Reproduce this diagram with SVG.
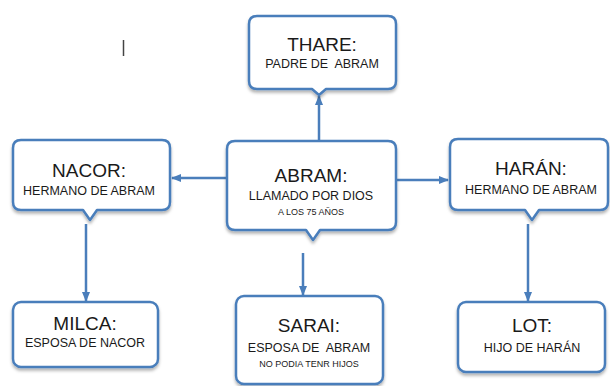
<svg xmlns="http://www.w3.org/2000/svg" width="610" height="386" viewBox="0 0 610 386">
<style>
.box{fill:#fff;stroke:#4a7ebb;stroke-width:2.5;stroke-linejoin:round;filter:url(#sh)}
.con{stroke:#4a7ebb;stroke-width:2.5;fill:none;marker-end:url(#ah)}
text{font-family:"Liberation Sans",Arial,sans-serif;fill:#1a1a1a;text-anchor:middle;white-space:pre}
.t{font-size:19px}
.s{font-size:12.5px}
.x{font-size:9px}
</style>
<defs>
<filter id="sh" x="-10%" y="-10%" width="120%" height="130%">
<feDropShadow dx="0" dy="2.5" stdDeviation="1.5" flood-color="#000" flood-opacity="0.3"/>
</filter>
<marker id="ah" markerUnits="userSpaceOnUse" markerWidth="10" markerHeight="10" viewBox="0 0 10 10" refX="9" refY="5" orient="auto">
<path d="M0,1 L10,5 L0,9 Z" fill="#4a7ebb"/>
</marker>
</defs>
<g id="connectors">
<line class="con" x1="319" y1="141" x2="319" y2="96"/>
<line class="con" x1="227" y1="178" x2="172" y2="178"/>
<line class="con" x1="396" y1="180" x2="448" y2="180"/>
<line class="con" x1="303" y1="253" x2="303" y2="295"/>
<line class="con" x1="86" y1="224" x2="86" y2="301"/>
<line class="con" x1="528" y1="224" x2="528" y2="301"/>
</g>
<g id="thare">
<path class="box" d="M257,16 H388 Q396,16 396,24 V81 Q396,89 388,89 H326 L319,95 L312,89 H257 Q249,89 249,81 V24 Q249,16 257,16 Z"/>
<text class="t" x="322" y="51">THARE:</text>
<text class="s" x="322" y="68" xml:space="preserve">PADRE DE  ABRAM</text>
</g>
<g id="abram">
<path class="box" d="M235,141 H388 Q396,141 396,149 V222 Q396,230 388,230 H320 L313,240 L306,230 H235 Q227,230 227,222 V149 Q227,141 235,141 Z"/>
<text class="t" x="311" y="182">ABRAM:</text>
<text class="s" x="311" y="200">LLAMADO POR DIOS</text>
<text class="x" x="311" y="215">A LOS 75 AÑOS</text>
</g>
<g id="nacor">
<path class="box" d="M21,140 H162 Q170,140 170,148 V202 Q170,210 162,210 H97 L90,220 L83,210 H21 Q13,210 13,202 V148 Q13,140 21,140 Z"/>
<text class="t" x="89" y="177">NACOR:</text>
<text class="s" x="89" y="195">HERMANO DE ABRAM</text>
</g>
<g id="haran">
<path class="box" d="M458,139 H600 Q608,139 608,147 V202 Q608,210 600,210 H539 L532,220 L525,210 H458 Q450,210 450,202 V147 Q450,139 458,139 Z"/>
<text class="t" x="531" y="175">HARÁN:</text>
<text class="s" x="531" y="194">HERMANO DE ABRAM</text>
</g>
<g id="milca">
<rect class="box" x="13" y="302" width="145" height="65" rx="8"/>
<text class="t" x="85" y="330">MILCA:</text>
<text class="s" x="85" y="347">ESPOSA DE NACOR</text>
</g>
<g id="sarai">
<rect class="box" x="236" y="296" width="147" height="88" rx="8"/>
<text class="t" x="309" y="332">SARAI:</text>
<text class="s" x="309" y="352" xml:space="preserve">ESPOSA DE  ABRAM</text>
<text class="x" x="309" y="367">NO PODIA TENR HIJOS</text>
</g>
<g id="lot">
<rect class="box" x="458" y="302" width="147" height="70" rx="8"/>
<text class="t" x="532" y="332">LOT:</text>
<text class="s" x="532" y="352">HIJO DE HARÁN</text>
</g>
<line x1="123.5" y1="40" x2="123.5" y2="56" stroke="#444" stroke-width="1.5"/>
</svg>
